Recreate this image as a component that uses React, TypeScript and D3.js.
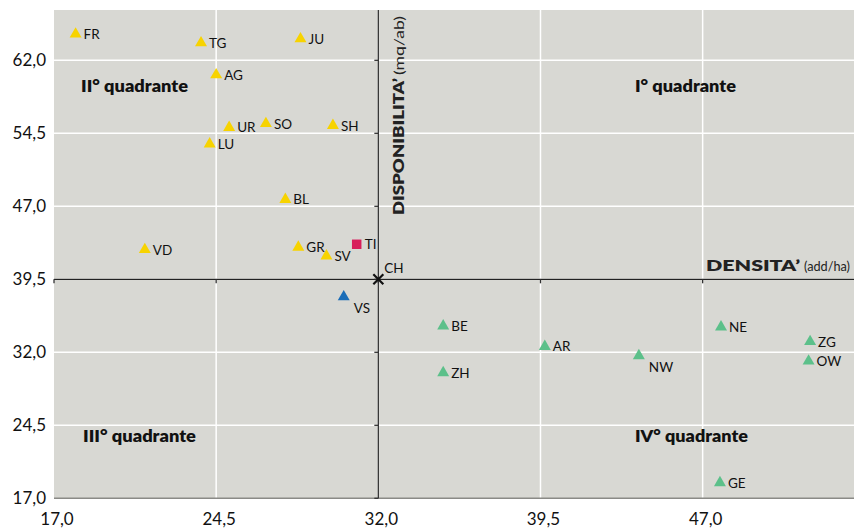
import React from "react";
import * as d3 from "d3";

const names = ["FR","TG","JU","AG","UR","SO","SH","LU","BL","VD","GR","SV","TI","VS","BE","ZH","AR","NW","NE","ZG","OW","GE"];
const densita = [18.0,23.8,28.4,24.5,25.1,26.8,29.9,24.2,27.7,21.2,28.3,29.6,31.0,30.4,35.0,35.0,39.7,44.05,47.85,51.97,51.9,47.8];
const disponibilita = [64.7,63.8,64.2,60.5,55.1,55.5,55.3,53.4,47.7,42.55,42.8,41.9,43.1,37.7,34.7,29.9,32.6,31.65,34.6,33.1,31.1,18.6];
const groups = ["y","y","y","y","y","y","y","y","y","y","y","y","ti","vs","g","g","g","g","g","g","g","g"];
const labelBelow = ["VS","NW"];
const chX = 32.0;
const chY = 39.5;
const xTicks = [17.0, 24.5, 32.0, 39.5, 47.0];
const yTicks = [17.0, 24.5, 32.0, 39.5, 47.0, 54.5, 62.0];
const quadrantLabels = ["I° quadrante", "II° quadrante", "III° quadrante", "IV° quadrante"];
const quadrantX = [43.87, 18.25, 18.34, 43.87];
const quadrantY = [58.74, 58.74, 22.82, 22.82];

const colors: Record<string, string> = { y: "#f7d300", ti: "#d81e5b", vs: "#1a6db8", g: "#5cc08a" };
const quadWidth: Record<string, number> = {
  "I° quadrante": 101,
  "II° quadrante": 107,
  "III° quadrante": 113,
  "IV° quadrante": 113,
};
const FONT = "Lato, 'Open Sans', sans-serif";

export default function App() {
  const W = 854, H = 528;
  const left = 54, right = 854, top = 10, bottom = 498.3;
  const x = d3.scaleLinear().domain([17, 54]).range([left, right]);
  const y = d3.scaleLinear().domain([17, 17 + (bottom - top) / 9.733]).range([bottom, top]);
  const tri = d3.symbol().type(d3.symbolTriangle).size(62)();
  const sq = d3.symbol().type(d3.symbolSquare).size(90)();
  const fmt = (v: number) => v.toFixed(1).replace(".", ",");
  const ax = x(chX), ay = y(chY);

  return (
    <svg width={W} height={H} style={{ position: "absolute", left: 0, top: 0, fontFamily: FONT }}>
      <rect x={left} y={top} width={right - left} height={bottom - top} fill="#d8d8d3" />
      {xTicks.slice(1).map((t) => (
        <line key={"gx" + t} x1={x(t)} x2={x(t)} y1={top} y2={bottom} stroke="#fff" strokeWidth={1.5} />
      ))}
      {yTicks.slice(1).map((t) => (
        <line key={"gy" + t} x1={left} x2={right} y1={y(t)} y2={y(t)} stroke="#fff" strokeWidth={1.5} />
      ))}
      <line x1={left} x2={right} y1={bottom} y2={bottom} stroke="#8a8a86" strokeWidth={1.5} />
      {/* axes through CH */}
      <line x1={ax} x2={ax} y1={top} y2={bottom} stroke="#333" strokeWidth={1.3} />
      <line x1={left} x2={right} y1={ay} y2={ay} stroke="#222" strokeWidth={1.3} />
      {xTicks.map((t) => (
        <line key={"tx" + t} x1={x(t)} x2={x(t)} y1={ay} y2={ay + 4} stroke="#333" strokeWidth={1.3} />
      ))}
      {yTicks.map((t) => (
        <line key={"ty" + t} x1={ax - 4} x2={ax} y1={y(t)} y2={y(t)} stroke="#333" strokeWidth={1.3} />
      ))}
      {/* tick labels */}
      {yTicks.map((t) => (
        <text key={"ly" + t} x={46} y={y(t) + 6} textAnchor="end" fontSize={17} fill="#111">{fmt(t)}</text>
      ))}
      {xTicks.map((t) => (
        <text key={"lx" + t} x={x(t) + 3} y={525} textAnchor="middle" fontSize={17} fill="#111">{fmt(t)}</text>
      ))}
      {/* quadrant labels */}
      {quadrantLabels.map((q, i) => (
        <text key={q} x={x(quadrantX[i])} y={y(quadrantY[i])} fontSize={16} fontWeight={800} fill="#111"
          textLength={quadWidth[q]} lengthAdjust="spacingAndGlyphs">{q}</text>
      ))}
      {/* axis titles */}
      <text x={706} y={271} fontSize={15.5} fontWeight={800} fill="#222" textLength={94} lengthAdjust="spacingAndGlyphs">DENSITA’</text>
      <text x={804} y={271} fontSize={14} fill="#222" textLength={46} lengthAdjust="spacingAndGlyphs">(add/ha)</text>
      <text transform={`translate(404,215) rotate(-90)`} fontSize={15.5} fontWeight={800} fill="#222"
        textLength={137} lengthAdjust="spacingAndGlyphs">DISPONIBILITA’</text>
      <text transform={`translate(404,75) rotate(-90)`} fontSize={14} fill="#222"
        textLength={59} lengthAdjust="spacingAndGlyphs">(mq/ab)</text>
      {/* points */}
      {names.map((n, i) => {
        const px = x(densita[i]);
        const py = y(disponibilita[i]);
        const below = labelBelow.includes(n);
        return (
          <g key={n}>
            <path d={groups[i] === "ti" ? sq : tri} transform={`translate(${px},${py})`} fill={colors[groups[i]]} />
            <text x={below ? px + 10 : px + 8} y={below ? py + 16 : py + 5} fontSize={13.5} fill="#111">{n}</text>
          </g>
        );
      })}
      {/* CH */}
      <g transform={`translate(${ax},${ay})`} stroke="#111" strokeWidth={2.2}>
        <line x1={-5} y1={-5} x2={5} y2={5} />
        <line x1={-5} y1={5} x2={5} y2={-5} />
      </g>
      <text x={ax + 6} y={ay - 6} fontSize={13.5} fill="#111">CH</text>
    </svg>
  );
}
